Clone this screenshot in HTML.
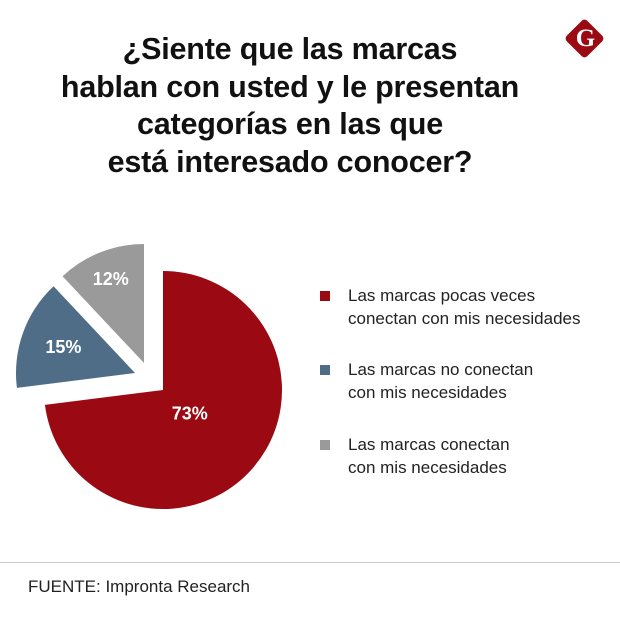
<!DOCTYPE html>
<html><head><meta charset="utf-8"><style>
body{margin:0;background:#fff;width:620px;height:623px;overflow:hidden;font-family:"Liberation Sans",sans-serif;position:relative}
.title{position:absolute;left:0;width:580px;top:31px;text-align:center;font-weight:bold;font-size:30.5px;line-height:37.5px;color:#111;letter-spacing:-0.2px}
.leg{position:absolute;left:322px;font-size:17px;line-height:23px;color:#222}
.sw{position:absolute;left:-2px;top:7px;width:10px;height:10px}
.leg span.t{margin-left:26px;display:block}
</style></head><body>
<div class="title">¿Siente que las marcas<br>hablan con usted y le presentan<br>categorías en las que<br>está interesado conocer?</div>
<div style="position:absolute;left:570px;top:24px;width:29px;height:29px;background:#9b0a12;border-radius:4px;transform:rotate(45deg)"></div>
<div style="position:absolute;left:570px;top:23px;width:31px;text-align:center;font:bold 25px 'Liberation Serif',serif;color:#fff;line-height:31px">G</div>
<svg id="pie" width="620" height="623" style="position:absolute;left:0;top:0"></svg>
<div class="leg" style="top:284px"><div class="sw" style="background:#9b0a12"></div><span class="t">Las marcas pocas veces<br>conectan con mis necesidades</span></div>
<div class="leg" style="top:358px"><div class="sw" style="background:#506d87"></div><span class="t">Las marcas no conectan<br>con mis necesidades</span></div>
<div class="leg" style="top:433px"><div class="sw" style="background:#9a9a9a"></div><span class="t">Las marcas conectan<br>con mis necesidades</span></div>
<div style="position:absolute;left:0;right:0;top:562px;height:1px;background:#ccc"></div>
<div style="position:absolute;left:28px;top:577px;font-size:17px;color:#222">FUENTE: Impronta Research</div>
<script>
const categories=["pocas","no","si"];
const values=[73,15,12];
const labels=["73%","15%","12%"];
const colors=["#9b0a12","#506d87","#9a9a9a"];
const offsets=[[0,0],[-28,-17],[-19,-27]];
const labelRadius=[0.3,0.64,0.76];
const cx=163,cy=390,r=119;
const svg=document.getElementById('pie');
const NS="http://www.w3.org/2000/svg";
const total=values.reduce((a,b)=>a+b,0);
let a0=0;
values.forEach((v,i)=>{
  const a1=a0+v/total*2*Math.PI;
  const ox=cx+offsets[i][0],oy=cy+offsets[i][1];
  const p=t=>[ox+r*Math.sin(t),oy-r*Math.cos(t)];
  const s=p(a0),e=p(a1);
  const large=(a1-a0)>Math.PI?1:0;
  const path=document.createElementNS(NS,'path');
  path.setAttribute('d',`M${ox},${oy}L${s[0]},${s[1]}A${r},${r} 0 ${large} 1 ${e[0]},${e[1]}Z`);
  path.setAttribute('fill',colors[i]);
  
  
  svg.appendChild(path);
  const m=(a0+a1)/2, lr=labelRadius[i];
  const t=document.createElementNS(NS,'text');
  t.setAttribute('x',ox+r*lr*Math.sin(m));
  t.setAttribute('y',oy-r*lr*Math.cos(m)+6);
  t.setAttribute('text-anchor','middle');
  t.setAttribute('fill','#fff');
  t.setAttribute('font-size','18');
  t.setAttribute('font-weight','bold');
  t.setAttribute('font-family','Liberation Sans, sans-serif');
  t.textContent=labels[i];
  
  
  svg.appendChild(t);
  a0=a1;
});
</script>
</body></html>
